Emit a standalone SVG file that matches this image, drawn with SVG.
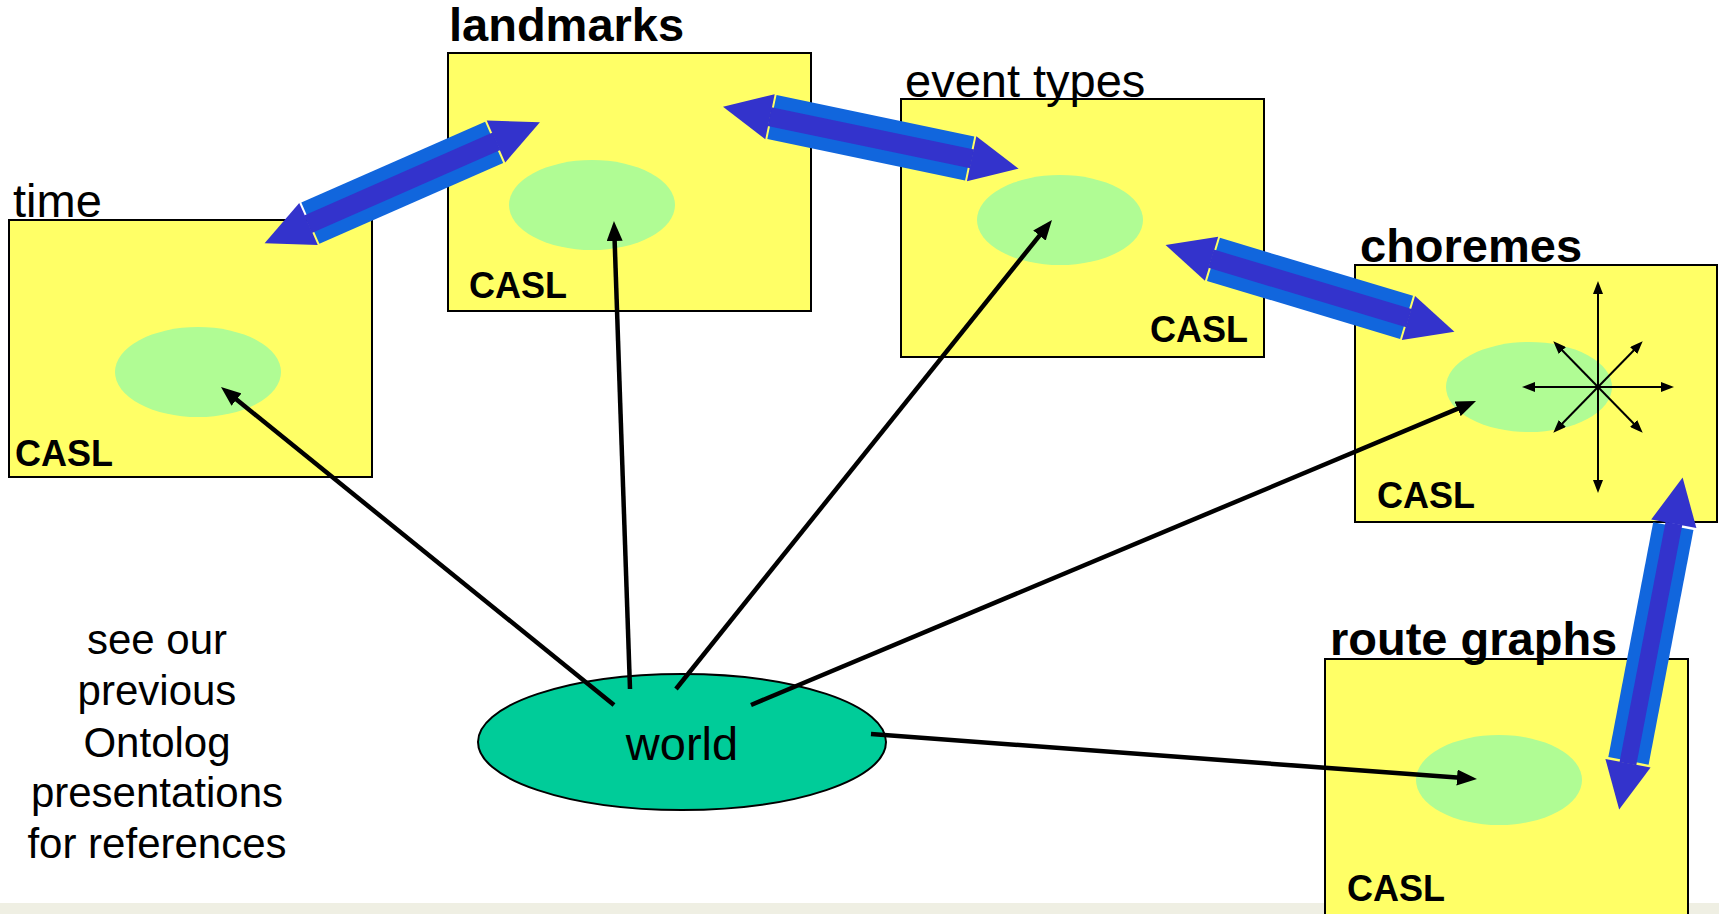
<svg xmlns="http://www.w3.org/2000/svg" width="1719" height="914" viewBox="0 0 1719 914">
<style>
.box{fill:#ffff66;stroke:#000;stroke-width:2}
.inner{fill:#b0fc94}
.lbl{font-family:"Liberation Sans",Arial,sans-serif;font-size:47px;fill:#000}
.b{font-weight:bold}
.casl{font-family:"Liberation Sans",Arial,sans-serif;font-size:36px;font-weight:bold;fill:#000}
.side{font-family:"Liberation Sans",Arial,sans-serif;font-size:42px;fill:#000;text-anchor:middle}
.link{stroke:#000;stroke-width:4.5;fill:none;marker-end:url(#ah)}
.comp{stroke:#000;stroke-width:2;fill:none;marker-end:url(#sh);marker-start:url(#sh)}
.shaft{fill:#1166dd}
.stripe{fill:#3333cc}
.head{fill:#3333cc}
</style>
<defs>
<marker id="ah" viewBox="0 0 20 16" refX="10" refY="8" markerWidth="20" markerHeight="16" markerUnits="userSpaceOnUse" orient="auto">
<path d="M0,0 L20,8 L0,16 z" fill="#000"/>
</marker>
<marker id="sh" viewBox="0 0 13 10" refX="6" refY="5" markerWidth="13" markerHeight="10" markerUnits="userSpaceOnUse" orient="auto-start-reverse">
<path d="M0,0 L13,5 L0,10 z" fill="#000"/>
</marker>
</defs>
<rect x="0" y="903" width="1719" height="11" fill="#efefe3"/>

<g id="time">
<rect class="box" x="9" y="220" width="363" height="257"/>
<ellipse class="inner" cx="198" cy="372" rx="83" ry="45"/>
<text class="lbl" x="13" y="217">time</text>
<text class="casl" x="15" y="466">CASL</text>
</g>
<g id="landmarks">
<rect class="box" x="448" y="53" width="363" height="258"/>
<ellipse class="inner" cx="592" cy="205" rx="83" ry="45"/>
<text class="lbl b" x="449" y="41">landmarks</text>
<text class="casl" x="469" y="298">CASL</text>
</g>
<g id="eventtypes">
<rect class="box" x="901" y="99" width="363" height="258"/>
<ellipse class="inner" cx="1060" cy="220" rx="83" ry="45"/>
<text class="lbl" x="905" y="97">event types</text>
<text class="casl" x="1150" y="342">CASL</text>
</g>
<g id="choremes">
<rect class="box" x="1355" y="265" width="362" height="257"/>
<ellipse class="inner" cx="1529" cy="387" rx="83" ry="45"/>
<text class="lbl b" x="1360" y="262">choremes</text>
<text class="casl" x="1377" y="508">CASL</text>
<line class="comp" x1="1598" y1="288" x2="1598" y2="486"/>
<line class="comp" x1="1529" y1="387" x2="1667" y2="387"/>
<line class="comp" x1="1558.2" y1="346.3" x2="1637.8" y2="427.7"/>
<line class="comp" x1="1637.8" y1="346.3" x2="1558.2" y2="427.7"/>
</g>
<g id="routegraphs">
<rect class="box" x="1325" y="659" width="363" height="270"/>
<ellipse class="inner" cx="1499" cy="780" rx="83" ry="45"/>
<text class="lbl b" x="1330" y="655">route graphs</text>
<text class="casl" x="1347" y="901">CASL</text>
</g>
<g id="world">
<ellipse cx="682" cy="742" rx="204" ry="68" fill="#00cc99" stroke="#000" stroke-width="2"/>
<text class="lbl" x="682" y="760" text-anchor="middle">world</text>
</g>
<g id="note">
<text class="side" x="157" y="654">see our</text>
<text class="side" x="157" y="705">previous</text>
<text class="side" x="157" y="757">Ontolog</text>
<text class="side" x="157" y="807">presentations</text>
<text class="side" x="157" y="858">for references</text>
</g>

<g id="connectors">
<g transform="translate(402.25,182.75) rotate(-23.75)">
<rect class="shaft" x="-100.4" y="-22.5" width="200.8" height="45"/>
<rect class="stripe" x="-103" y="-9.5" width="206" height="19"/>
<polygon class="head" points="102.4,-23 150.4,0 102.4,23"/>
<polygon class="head" points="-102.4,-23 -150.4,0 -102.4,23"/>
</g>
<g transform="translate(870.8,137.75) rotate(11.8)">
<rect class="shaft" x="-101" y="-22.5" width="202" height="45"/>
<rect class="stripe" x="-103.5" y="-9.5" width="207" height="19"/>
<polygon class="head" points="103,-23 151,0 103,23"/>
<polygon class="head" points="-103,-23 -151,0 -103,23"/>
</g>
<g transform="translate(1310,288.4) rotate(16.73)">
<rect class="shaft" x="-100.8" y="-22.5" width="201.6" height="45"/>
<rect class="stripe" x="-103.3" y="-9.5" width="206.6" height="19"/>
<polygon class="head" points="102.8,-23 150.8,0 102.8,23"/>
<polygon class="head" points="-102.8,-23 -150.8,0 -102.8,23"/>
</g>
<g transform="translate(1650.9,643.5) rotate(100.83)">
<rect class="shaft" x="-119.4" y="-20.5" width="238.8" height="41"/>
<rect class="stripe" x="-122.4" y="-8.5" width="244.8" height="17"/>
<polygon class="head" points="121.9,-23 168.9,0 121.9,23"/>
<polygon class="head" points="-121.9,-23 -168.9,0 -121.9,23"/>
</g>
<line class="link" x1="614" y1="705" x2="228.8" y2="393.3"/>
<line class="link" x1="630" y1="689" x2="614.3" y2="231"/>
<line class="link" x1="676" y1="689" x2="1045.7" y2="227.8"/>
<line class="link" x1="751" y1="705" x2="1466.8" y2="404.9"/>
<line class="link" x1="871" y1="734" x2="1467" y2="778.3"/>
</g>
</svg>
